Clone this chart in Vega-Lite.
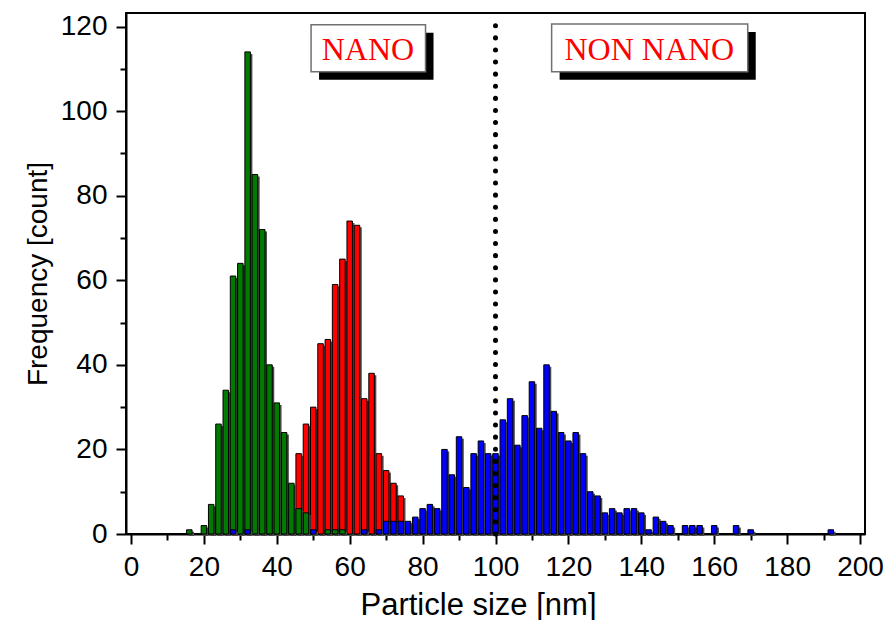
{
  "$schema": "https://vega.github.io/schema/vega-lite/v6.json",
  "width": 739,
  "height": 521,
  "autosize": "none",
  "padding": {"left": 126, "top": 13, "right": 29, "bottom": 86},
  "background": "white",
  "config": {
    "view": {"stroke": "black", "strokeWidth": 2},
    "axis": {
      "domainColor": "black", "domainWidth": 2,
      "tickColor": "black", "tickWidth": 2,
      "labelFont": "Liberation Sans", "labelFontSize": 28, "labelColor": "black",
      "titleFont": "Liberation Sans", "titleFontSize": 29, "titleFontWeight": "normal", "titleColor": "black",
      "grid": false, "labelFlush": false, "labelOverlap": false
    }
  },
  "datasets": {
    "red": [
      {"size": 36, "count": 1}, {"size": 38, "count": 4}, {"size": 40, "count": 4}, {"size": 42, "count": 4},
      {"size": 44, "count": 4}, {"size": 46, "count": 19}, {"size": 48, "count": 26}, {"size": 50, "count": 30},
      {"size": 52, "count": 45}, {"size": 54, "count": 46}, {"size": 56, "count": 59}, {"size": 58, "count": 65},
      {"size": 60, "count": 74}, {"size": 62, "count": 73}, {"size": 64, "count": 32}, {"size": 66, "count": 38},
      {"size": 68, "count": 19}, {"size": 70, "count": 15}, {"size": 72, "count": 12}, {"size": 74, "count": 9},
      {"size": 76, "count": 1}, {"size": 82, "count": 1}
    ],
    "green": [
      {"size": 16, "count": 1}, {"size": 20, "count": 2}, {"size": 22, "count": 7}, {"size": 24, "count": 26},
      {"size": 26, "count": 34}, {"size": 28, "count": 61}, {"size": 30, "count": 64}, {"size": 32, "count": 114},
      {"size": 34, "count": 85}, {"size": 36, "count": 72}, {"size": 38, "count": 40}, {"size": 40, "count": 31},
      {"size": 42, "count": 24}, {"size": 44, "count": 12}, {"size": 46, "count": 6}, {"size": 48, "count": 5},
      {"size": 54, "count": 1}, {"size": 56, "count": 1}, {"size": 58, "count": 1}
    ],
    "blue": [
      {"size": 28, "count": 1}, {"size": 32, "count": 1}, {"size": 50, "count": 1}, {"size": 64, "count": 1},
      {"size": 68, "count": 1}, {"size": 70, "count": 3}, {"size": 72, "count": 3}, {"size": 74, "count": 3},
      {"size": 76, "count": 3}, {"size": 78, "count": 4}, {"size": 80, "count": 6}, {"size": 82, "count": 7},
      {"size": 84, "count": 6}, {"size": 86, "count": 20}, {"size": 88, "count": 14}, {"size": 90, "count": 23},
      {"size": 92, "count": 11}, {"size": 94, "count": 19}, {"size": 96, "count": 22}, {"size": 98, "count": 19},
      {"size": 100, "count": 19}, {"size": 102, "count": 27}, {"size": 104, "count": 32}, {"size": 106, "count": 21},
      {"size": 108, "count": 28}, {"size": 110, "count": 36}, {"size": 112, "count": 25}, {"size": 114, "count": 40},
      {"size": 116, "count": 29}, {"size": 118, "count": 24}, {"size": 120, "count": 22}, {"size": 122, "count": 24},
      {"size": 124, "count": 19}, {"size": 126, "count": 10}, {"size": 128, "count": 9}, {"size": 130, "count": 5},
      {"size": 132, "count": 6}, {"size": 134, "count": 5}, {"size": 136, "count": 6}, {"size": 138, "count": 6},
      {"size": 140, "count": 5}, {"size": 142, "count": 1}, {"size": 144, "count": 4}, {"size": 146, "count": 3},
      {"size": 148, "count": 2}, {"size": 152, "count": 2}, {"size": 154, "count": 2}, {"size": 156, "count": 2},
      {"size": 160, "count": 2}, {"size": 166, "count": 2}, {"size": 170, "count": 1}, {"size": 192, "count": 1}
    ],
    "boxes": [
      {"label": "NANO", "x1": 49.4, "x2": 80.8, "y1": 109.3, "y2": 120.4, "xc": 65.0, "yb": 112.1},
      {"label": "NON NANO", "x1": 115.4, "x2": 169.2, "y1": 109.3, "y2": 120.6, "xc": 142.2, "yb": 112.1}
    ],
    "limit": [{"size": 100, "lo": 0, "hi": 121}]
  },
  "encoding": {
    "x": {
      "field": "size", "type": "quantitative",
      "scale": {"domain": [0, 200], "nice": false, "zero": false},
      "title": "Particle size [nm]",
      "axis": {
        "values": [0, 10, 20, 30, 40, 50, 60, 70, 80, 90, 100, 110, 120, 130, 140, 150, 160, 170, 180, 190, 200],
        "labelExpr": "datum.value % 20 === 0 ? datum.label : ''",
        "tickSize": {"condition": {"test": "datum.value % 20 === 0", "value": 10}, "value": 6},
        "labelPadding": 9,
        "titlePadding": 9,
        "titleFontSize": 31,
        "titleX": 352
      }
    },
    "y": {
      "field": "count", "type": "quantitative",
      "scale": {"domain": [0, 123.2], "nice": false},
      "title": "Frequency [count]",
      "axis": {
        "values": [0, 10, 20, 30, 40, 50, 60, 70, 80, 90, 100, 110, 120],
        "labelExpr": "datum.value % 20 === 0 ? datum.label : ''",
        "tickSize": {"condition": {"test": "datum.value % 20 === 0", "value": 10}, "value": 6},
        "labelPadding": 9,
        "titlePadding": 8,
        "titleFontSize": 28
      }
    }
  },
  "layer": [
    {
      "data": {"name": "red"},
      "mark": {"type": "bar", "width": 5.5, "fill": "#4a4a4a", "xOffset": 2, "yOffset": 2}
    },
    {
      "data": {"name": "red"},
      "mark": {"type": "bar", "width": 5.5, "fill": "#ff0000", "stroke": "black", "strokeWidth": 1}
    },
    {
      "data": {"name": "green"},
      "mark": {"type": "bar", "width": 5.5, "fill": "#4a4a4a", "xOffset": 2, "yOffset": 2}
    },
    {
      "data": {"name": "green"},
      "mark": {"type": "bar", "width": 5.5, "fill": "#007a00", "stroke": "black", "strokeWidth": 1}
    },
    {
      "data": {"name": "blue"},
      "mark": {"type": "bar", "width": 5.5, "fill": "#4a4a4a", "xOffset": 2, "yOffset": 2}
    },
    {
      "data": {"name": "blue"},
      "mark": {"type": "bar", "width": 5.5, "fill": "#0000ff", "stroke": "black", "strokeWidth": 1}
    },
    {
      "data": {"name": "limit"},
      "mark": {"type": "rule", "color": "black", "strokeWidth": 5, "strokeCap": "round", "strokeDash": [0.1, 12]},
      "encoding": {
        "x": {"field": "size", "type": "quantitative", "title": "Particle size [nm]"},
        "y": {"field": "lo", "type": "quantitative", "title": "Frequency [count]"},
        "y2": {"field": "hi"}
      }
    },
    {
      "data": {"name": "boxes"},
      "mark": {"type": "rect", "fill": "black", "xOffset": 8, "x2Offset": 8, "yOffset": 8, "y2Offset": 8},
      "encoding": {
        "x": {"field": "x1", "type": "quantitative", "title": "Particle size [nm]"},
        "x2": {"field": "x2"},
        "y": {"field": "y1", "type": "quantitative", "title": "Frequency [count]"},
        "y2": {"field": "y2"}
      }
    },
    {
      "data": {"name": "boxes"},
      "mark": {"type": "rect", "fill": "white", "stroke": "#707070", "strokeWidth": 1.5},
      "encoding": {
        "x": {"field": "x1", "type": "quantitative", "title": "Particle size [nm]"},
        "x2": {"field": "x2"},
        "y": {"field": "y1", "type": "quantitative", "title": "Frequency [count]"},
        "y2": {"field": "y2"}
      }
    },
    {
      "data": {"name": "boxes"},
      "mark": {"type": "text", "font": "Liberation Serif", "fontSize": 32, "color": "#ff0000", "align": "center", "baseline": "alphabetic"},
      "encoding": {
        "x": {"field": "xc", "type": "quantitative", "title": "Particle size [nm]"},
        "y": {"field": "yb", "type": "quantitative", "title": "Frequency [count]"},
        "text": {"field": "label"}
      }
    }
  ]
}
